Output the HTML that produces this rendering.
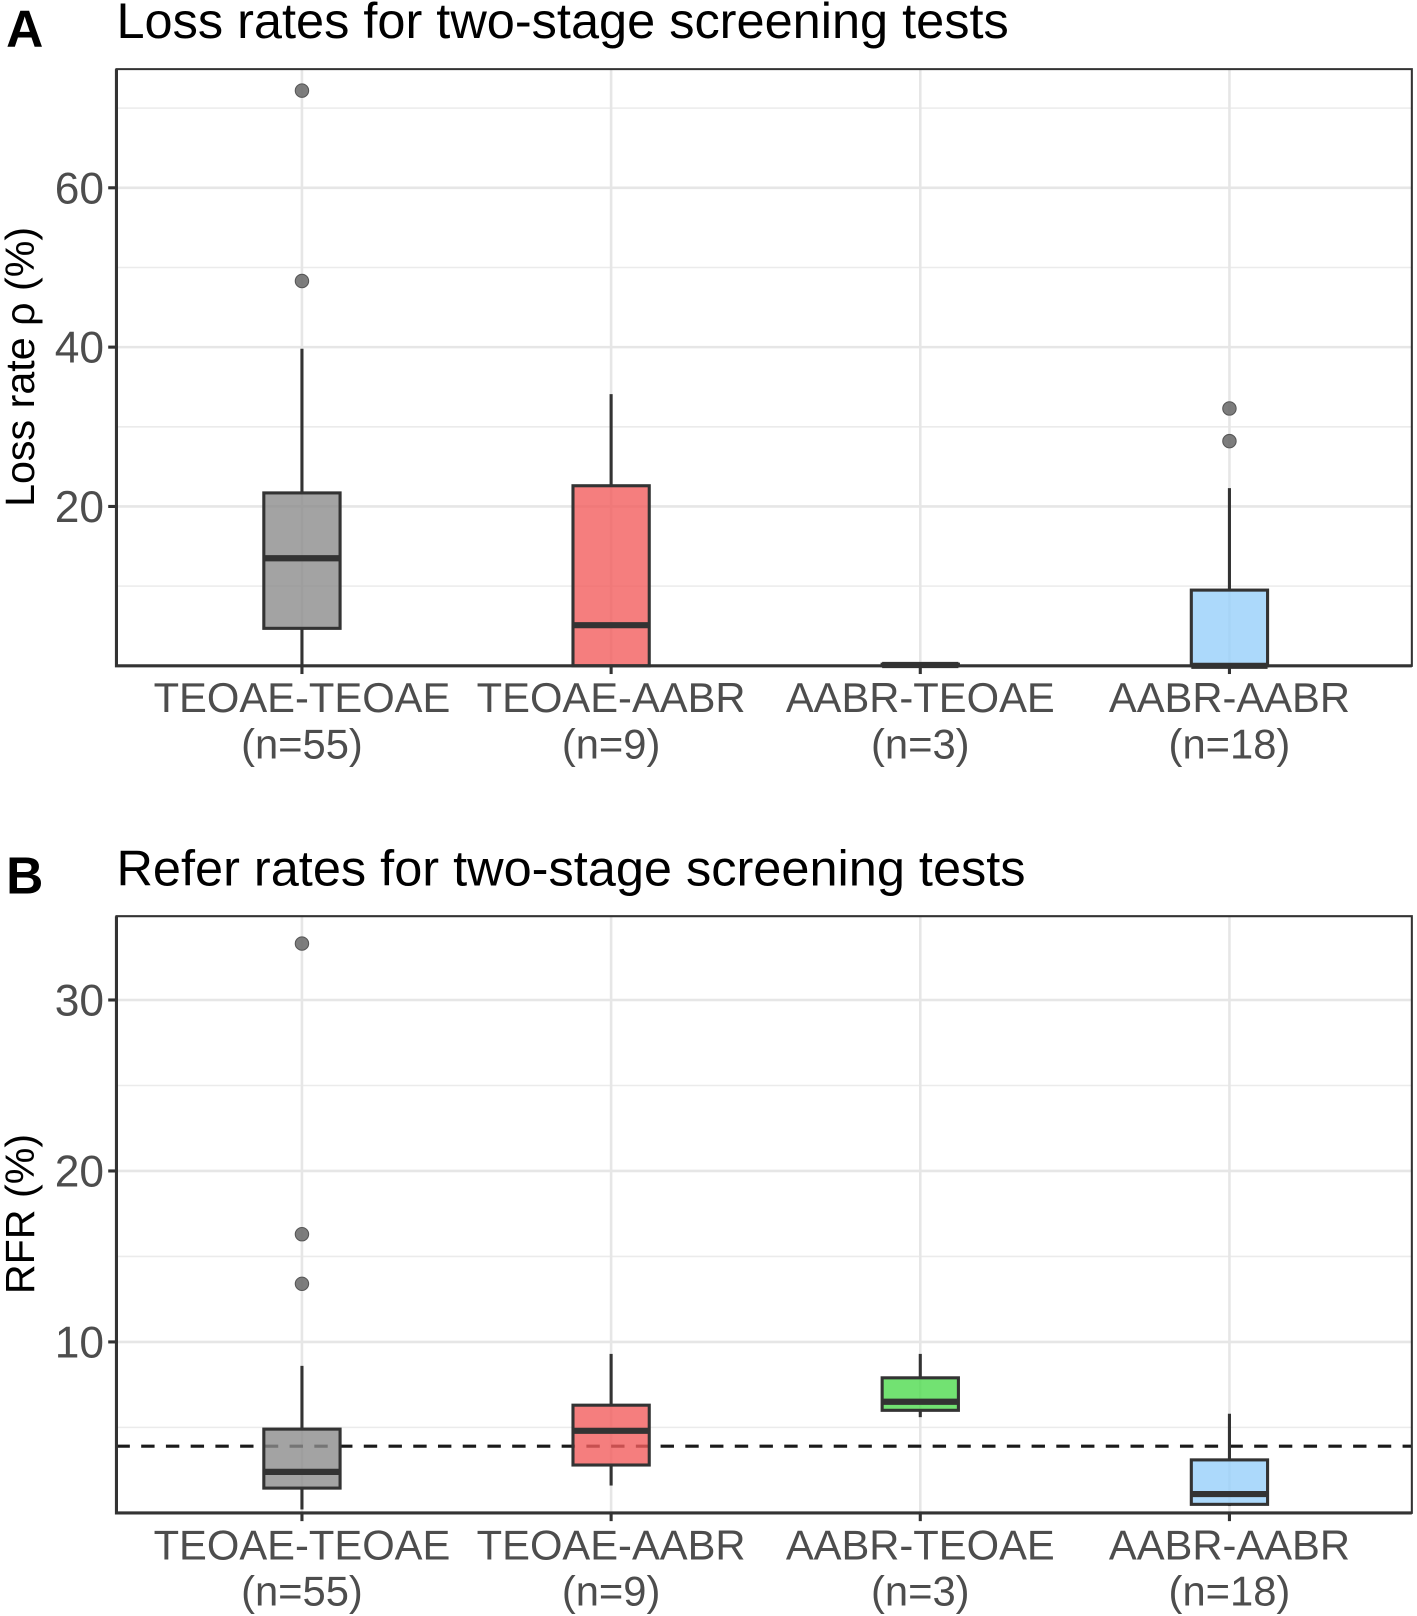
<!DOCTYPE html>
<html><head><meta charset="utf-8"><style>
html,body{margin:0;padding:0;background:#fff}
svg{display:block}
text{font-family:"Liberation Sans",Arial,sans-serif}
</style></head><body>
<svg id="fig" width="1417" height="1616" viewBox="0 0 1375 1568" xmlns="http://www.w3.org/2000/svg"></svg>
<script>
const categories = ["TEOAE-TEOAE","TEOAE-AABR","AABR-TEOAE","AABR-AABR"];
const counts = ["(n=55)","(n=9)","(n=3)","(n=18)"];
const colors = ["#8c8c8c","#f25e5e","#4fdb4f","#97cffa"];
// Panel A: [low, q1, median, q3, high]
const lossStats = [[0,4.7,13.5,21.7,39.8],[0,0,5.1,22.6,34.1],[0,0,0.1,0.2,0.2],[0,0,0,9.5,22.3]];
const lossOutliers = [[72.2,48.3],[],[],[32.3,28.2]];
const lossTicks = [20,40,60];
const lossMinor = [10,30,50,70];
// Panel B
const rfrStats = [[0.2,1.45,2.4,4.9,8.6],[1.6,2.8,4.8,6.3,9.3],[5.6,6.0,6.5,7.9,9.3],[0.4,0.5,1.1,3.1,5.8]];
const rfrOutliers = [[33.3,16.3,13.4],[],[],[]];
const rfrTicks = [10,20,30];
const rfrMinor = [5,15,25];
const rfrRef = [3.9];

const NS="http://www.w3.org/2000/svg";
const svg=document.getElementById('fig');
function el(tag,attrs,parent,txt){const e=document.createElementNS(NS,tag);for(const k in attrs)e.setAttribute(k,attrs[k]);if(txt!==undefined)e.textContent=txt;(parent||svg).appendChild(e);return e;}

function panel(opt){
  const g=el('g',{});
  
  
  const L=113,R=1370,T=opt.top,B=opt.bottom;
  const y=v=>B-(v-0)/opt.max*(B-T);
  const x=i=>293+i*300;
  const lbl=el('text',{x:6,y:T-22,'font-size':50,'font-weight':'bold',fill:'#000'},g,opt.letter);
  
  const tt=el('text',{x:113,y:T-30,'font-size':49,fill:'#000'},g,opt.title);
  
  opt.minor.forEach(v=>{const l=el('line',{x1:L,x2:R,y1:y(v),y2:y(v),stroke:'#ebebeb','stroke-width':1.5},g);});
  opt.ticks.forEach(v=>{const l=el('line',{x1:L,x2:R,y1:y(v),y2:y(v),stroke:'#e6e6e6','stroke-width':2.5},g);});
  categories.forEach((c,i)=>{const l=el('line',{x1:x(i),x2:x(i),y1:T,y2:B,stroke:'#e6e6e6','stroke-width':2.5},g);});
  if(opt.ref){opt.ref.forEach(v=>{const l=el('line',{x1:L,x2:R,y1:y(v),y2:y(v),stroke:'#1a1a1a','stroke-width':3,'stroke-dasharray':'13,11'},g);});}
  opt.stats.forEach((s,i)=>{
    const bg=el('g',{},g);
    const w1=el('line',{x1:x(i),x2:x(i),y1:y(s[3]),y2:y(s[4]),stroke:'#333','stroke-width':3},bg);
    const w2=el('line',{x1:x(i),x2:x(i),y1:y(s[0]),y2:y(s[1]),stroke:'#333','stroke-width':3},bg);
    const r=el('rect',{x:x(i)-37,y:y(s[3]),width:74,height:Math.max(0.5,y(s[1])-y(s[3])),fill:colors[i],'fill-opacity':0.8,stroke:'#333','stroke-width':3},bg);
    const m=el('line',{x1:x(i)-37,x2:x(i)+37,y1:y(s[2]),y2:y(s[2]),stroke:'#333','stroke-width':6},bg);
    opt.out[i].forEach(v=>{const c=el('circle',{cx:x(i),cy:y(v),r:6.5,fill:'#666','fill-opacity':0.85,stroke:'#555','stroke-width':1},bg);});
  });
  const fr=el('path',{d:`M${L},${T} H${R} V${B} H${L} Z`,fill:'none',stroke:'#333','stroke-width':2},g);
  const ax=el('path',{d:`M${L},${T} V${B} H${R}`,fill:'none',stroke:'#333','stroke-width':3},g);
  opt.ticks.forEach(v=>{
    const tk=el('line',{x1:L-8,x2:L,y1:y(v),y2:y(v),stroke:'#333','stroke-width':3},g);
    const t=el('text',{x:L-12,y:y(v)+15,'font-size':43,fill:'#4d4d4d','text-anchor':'end'},g,String(v));
  });
  categories.forEach((c,i)=>{
    const tk=el('line',{x1:x(i),x2:x(i),y1:B,y2:B+8,stroke:'#333','stroke-width':3},g);
    const t=el('text',{x:x(i),y:B+45,'font-size':40.5,fill:'#4d4d4d','text-anchor':'middle'},g,c);
    const t2=el('text',{x:x(i),y:B+90,'font-size':40.5,fill:'#4d4d4d','text-anchor':'middle'},g,counts[i]);
  });
  const yt=el('text',{x:0,y:0,'font-size':40,fill:'#000','text-anchor':'middle',transform:`translate(33,${opt.ytY}) rotate(-90)`},g,opt.ytitle);
  
}
panel({name:'panel-a-loss-rates',letter:'A',title:'Loss rates for two-stage screening tests',top:67,bottom:646,max:74.9,stats:lossStats,out:lossOutliers,ticks:lossTicks,minor:lossMinor,ytitle:'Loss rate ρ (%)',ytY:356});
panel({name:'panel-b-refer-rates',letter:'B',title:'Refer rates for two-stage screening tests',top:889,bottom:1468,max:34.9,stats:rfrStats,out:rfrOutliers,ticks:rfrTicks,minor:rfrMinor,ref:rfrRef,ytitle:'RFR (%)',ytY:1178});
</script>
</body></html>
